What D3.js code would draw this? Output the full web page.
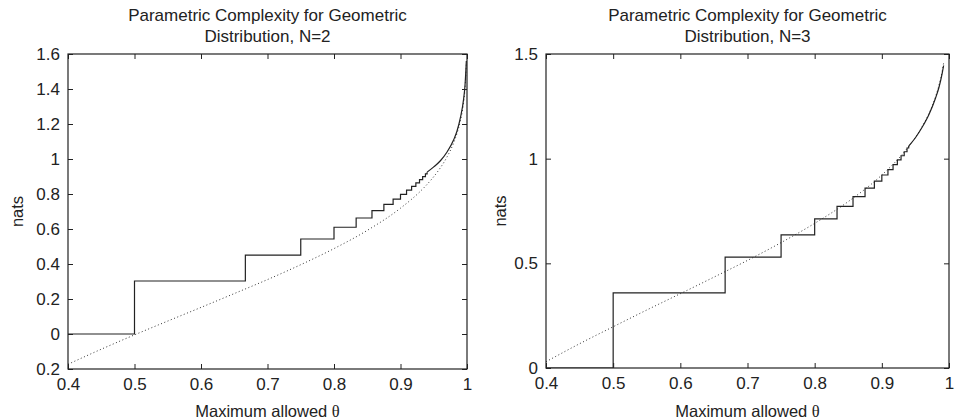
<!DOCTYPE html>
<html>
<head>
<meta charset="utf-8">
<script src="https://cdn.jsdelivr.net/npm/d3@7"></script>
<style>
  body { margin: 0; background: #fff; }
  text { font-family: "Liberation Sans", Arial, sans-serif; fill: #222; }
  .frame { fill: none; stroke: #222; stroke-width: 1.2; }
  .tick line { stroke: #222; }
  .solid { fill: none; stroke: #222; stroke-width: 1.2; }
  .dotted { fill: none; stroke: #333; stroke-width: 1; stroke-dasharray: 1 2.5; }
</style>
</head>
<body>
<div id="chart"></div>
<script>
//set the width and height of the svg
var width = 956;
var height = 420;

//x ticks shared by both panels
var xTicks = [0.4, 0.5, 0.6, 0.7, 0.8, 0.9, 1];

//left panel (N=2) ticks, the bottom label lost its minus sign in the original
var leftYTicks = [-0.2, 0, 0.2, 0.4, 0.6, 0.8, 1, 1.2, 1.4, 1.6];
var leftYLabels = ["0.2", "0", "0.2", "0.4", "0.6", "0.8", "1", "1.2", "1.4", "1.6"];

//right panel (N=3) ticks
var rightYTicks = [0, 0.5, 1, 1.5];
var rightYLabels = ["0", "0.5", "1", "1.5"];

//step positions (theta where the staircase jumps)
var stepTheta = [0.4, 0.5, 0.6667, 0.75, 0.8, 0.8333, 0.8571, 0.875, 0.8889,
                 0.9, 0.9091, 0.9167, 0.9231, 0.9286, 0.9333, 0.9375];

//N=2 staircase values and the smooth tail after the steps
var leftStepValue = [0, 0.303, 0.451, 0.543, 0.61, 0.663, 0.705, 0.741, 0.771,
                     0.798, 0.822, 0.844, 0.864, 0.882, 0.899, 0.915];
var leftTailTheta = [0.94, 0.95, 0.96, 0.97, 0.98, 0.985, 0.99, 0.995, 0.997, 0.999];
var leftTailValue = [0.925, 0.955, 0.99, 1.04, 1.11, 1.16, 1.235, 1.345, 1.42, 1.56];

//N=2 dotted (asymptotic) curve
var dotTheta = [0.4, 0.45, 0.5, 0.55, 0.6, 0.65, 0.7, 0.75, 0.8, 0.85, 0.9,
                0.93, 0.94, 0.95, 0.96, 0.97, 0.98, 0.985, 0.99, 0.995, 0.997, 0.999];
var leftDotValue = [-0.173, -0.087, -0.005, 0.074, 0.152, 0.231, 0.311, 0.396, 0.488,
                    0.592, 0.719, 0.816, 0.855, 0.899, 0.95, 1.012, 1.093, 1.147,
                    1.217, 1.327, 1.401, 1.543];

//N=3 staircase values and tail
var rightStepValue = [0, 0.359, 0.53, 0.636, 0.712, 0.772, 0.819, 0.859, 0.893,
                      0.922, 0.948, 0.972, 0.994, 1.014, 1.033, 1.051];
var rightTailTheta = [0.94, 0.95, 0.96, 0.97, 0.98, 0.985, 0.99, 0.992];
var rightTailValue = [1.06, 1.1, 1.15, 1.21, 1.29, 1.34, 1.41, 1.445];

//N=3 dotted curve (stops a bit before 1)
var rightDotTheta = [0.4, 0.45, 0.5, 0.55, 0.6, 0.65, 0.7, 0.75, 0.8, 0.85, 0.9,
                     0.93, 0.94, 0.95, 0.96, 0.97, 0.98, 0.985, 0.99, 0.992];
var rightDotValue = [0.03, 0.116, 0.197, 0.277, 0.355, 0.434, 0.514, 0.599, 0.691,
                     0.795, 0.922, 1.019, 1.058, 1.102, 1.153, 1.215, 1.296, 1.35,
                     1.42, 1.457];

var svg = d3.select("#chart")
            .append("svg")
            .attr("width", width)
            .attr("height", height);

//zip two arrays into points
function zip(xs, ys) {
  return xs.map(function(x, i) { return {x: x, y: ys[i]}; });
}

function drawPanel(opt) {
  var xScale = d3.scaleLinear()
                 .domain([0.4, 1])
                 .range([opt.left, opt.right]);
  var yScale = d3.scaleLinear()
                 .domain(opt.yDomain)
                 .range([opt.bottom, opt.top]);

  var g = svg.append("g");

  //clip lines to the box
  var clipId = "clip" + opt.id;
  svg.append("clipPath").attr("id", clipId)
     .append("rect")
     .attr("x", opt.left).attr("y", opt.top)
     .attr("width", opt.right - opt.left)
     .attr("height", opt.bottom - opt.top);

  //ticks on all four sides, pointing inward
  g.append("g")
   .attr("transform", "translate(0," + opt.bottom + ")")
   .call(d3.axisBottom(xScale).tickValues(xTicks).tickSize(-5).tickPadding(9)
           .tickFormat(function(d) { return d3.format("")(d); }));
  g.append("g")
   .attr("transform", "translate(0," + opt.top + ")")
   .call(d3.axisTop(xScale).tickValues(xTicks).tickSize(-5).tickFormat(""));
  g.append("g")
   .attr("transform", "translate(" + opt.left + ",0)")
   .call(d3.axisLeft(yScale).tickValues(opt.yTicks).tickSize(-5).tickPadding(8)
           .tickFormat(function(d, i) { return opt.yLabels[i]; }));
  g.append("g")
   .attr("transform", "translate(" + opt.right + ",0)")
   .call(d3.axisRight(yScale).tickValues(opt.yTicks).tickSize(-5).tickFormat(""));

  g.selectAll(".domain").remove();
  g.selectAll(".tick text")
   .style("font-size", "17px")
   .style("font-family", "'Liberation Sans', Arial, sans-serif")
   .attr("fill", "#222");
  g.selectAll(".tick line").attr("stroke", "#222");

  var lineGen = d3.line()
                  .x(function(d) { return xScale(d.x); })
                  .y(function(d) { return yScale(d.y); });

  var plot = g.append("g").attr("clip-path", "url(#" + clipId + ")");

  //dotted curve
  plot.append("path")
      .attr("class", "dotted")
      .attr("d", lineGen.curve(d3.curveMonotoneX)(zip(opt.dotTheta, opt.dotValue)));

  //staircase, ending at the first tail point
  var stepPts = zip(opt.stepTheta, opt.stepValue);
  stepPts.push({x: opt.tailTheta[0], y: opt.tailValue[0]});
  plot.append("path")
      .attr("class", "solid")
      .attr("d", lineGen.curve(d3.curveStepAfter)(stepPts));

  //smooth tail
  plot.append("path")
      .attr("class", "solid")
      .attr("d", lineGen.curve(d3.curveMonotoneX)(zip(opt.tailTheta, opt.tailValue)));

  //box
  g.append("rect")
   .attr("class", "frame")
   .attr("x", opt.left).attr("y", opt.top)
   .attr("width", opt.right - opt.left)
   .attr("height", opt.bottom - opt.top);

  //title, two lines
  var cx = (opt.left + opt.right) / 2;
  var title = g.append("text")
               .attr("text-anchor", "middle")
               .style("font-size", "17px");
  title.append("tspan").attr("x", cx).attr("y", 21)
       .text("Parametric Complexity for Geometric");
  title.append("tspan").attr("x", cx).attr("y", 42)
       .text("Distribution, N=" + opt.n);

  //x axis label
  var xl = g.append("text")
            .attr("x", cx)
            .attr("y", 417)
            .attr("text-anchor", "middle")
            .style("font-size", "16.5px");
  xl.append("tspan").text("Maximum allowed ");
  xl.append("tspan").style("font-family", "'Liberation Serif', serif").text("θ");

  //y axis label
  g.append("text")
   .attr("transform", "translate(" + opt.yLabelX + "," + ((opt.top + opt.bottom) / 2) + ") rotate(-90)")
   .attr("text-anchor", "middle")
   .style("font-size", "16.5px")
   .text("nats");
}

drawPanel({id: "L", n: 2, left: 68, right: 467, top: 54, bottom: 369,
           yDomain: [-0.2, 1.6], yTicks: leftYTicks, yLabels: leftYLabels,
           stepTheta: stepTheta, stepValue: leftStepValue,
           tailTheta: leftTailTheta, tailValue: leftTailValue,
           dotTheta: dotTheta, dotValue: leftDotValue, yLabelX: 23});

drawPanel({id: "R", n: 3, left: 546, right: 949, top: 54, bottom: 368,
           yDomain: [0, 1.5], yTicks: rightYTicks, yLabels: rightYLabels,
           stepTheta: stepTheta, stepValue: rightStepValue,
           tailTheta: rightTailTheta, tailValue: rightTailValue,
           dotTheta: rightDotTheta, dotValue: rightDotValue, yLabelX: 506});
</script>
</body>
</html>
